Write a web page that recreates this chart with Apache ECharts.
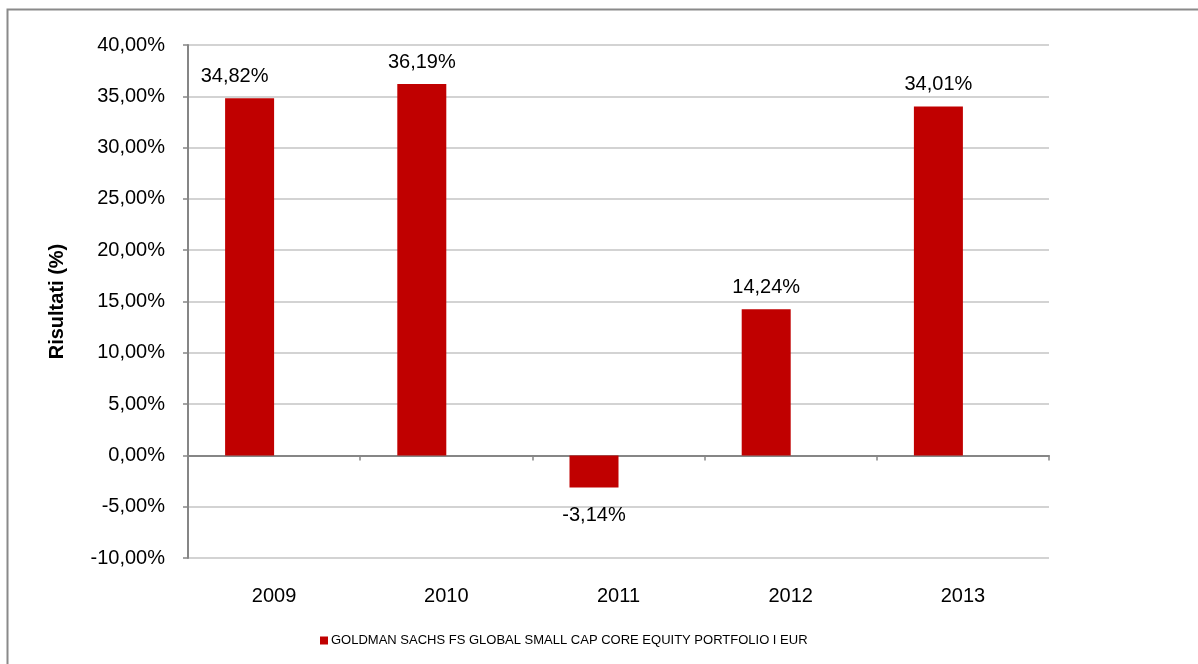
<!DOCTYPE html>
<html>
<head>
<meta charset="utf-8">
<script src="https://cdn.jsdelivr.net/npm/echarts@6/dist/echarts.min.js"></script>
<style>
  html, body { margin: 0; padding: 0; background: #fff; }
  #chart { width: 1198px; height: 664px; }
</style>
</head>
<body>
<div id="chart"></div>
<script>
const years = ['2009', '2010', '2011', '2012', '2013'];
const risultati = [34.82, 36.19, -3.14, 14.24, 34.01];
const vuoto = [null, null, null, null, null]; // seconda serie vuota, come in Excel
const serieNome = 'GOLDMAN SACHS FS GLOBAL SMALL CAP CORE EQUITY PORTFOLIO I EUR';

const font = 'Liberation Sans, Arial, sans-serif';
const fmt = v => v.toFixed(2).replace('.', ',') + '%';

const myChart = echarts.init(document.getElementById('chart'), null, { renderer: 'canvas' });

// etichette: quelle negative un po' più staccate, la prima spostata a sinistra come nell'originale
const barData = risultati.map((v, i) => {
    const item = { value: v };
    if (v < 0) item.label = { distance: 18 };
    if (i === 0) item.label = { offset: [-15, 0] };
    return item;
});

const option = {
    animation: false,
    textStyle: { fontFamily: font },
    graphic: [{
        type: 'rect',
        shape: { x: 7.5, y: 9.5, width: 1300, height: 800 },
        style: { fill: 'none', stroke: '#8a8a8a', lineWidth: 2 },
        silent: true
    }],
    grid: { left: 188, right: 149, top: 45, bottom: 106 },
    legend: {
        data: [serieNome],
        left: 315,
        top: 629,
        icon: 'rect',
        itemWidth: 8,
        itemHeight: 8,
        itemGap: 10,
        textStyle: { fontFamily: font, fontSize: 13, color: '#000', padding: [0, 0, 0, -2] }
    },
    xAxis: [
        {
            type: 'category',
            data: years,
            axisLine: { onZero: true, lineStyle: { color: '#868686', width: 2 } },
            axisTick: { show: true, length: 5, lineStyle: { color: '#868686', width: 1.5 } },
            axisLabel: { show: false }
        },
        {
            type: 'category',
            data: years,
            position: 'bottom',
            axisLine: { show: false, onZero: false },
            axisTick: { show: false },
            axisLabel: { fontFamily: font, fontSize: 20, color: '#000', margin: 28 }
        }
    ],
    yAxis: {
        type: 'value',
        min: -10,
        max: 40,
        interval: 5,
        name: 'Risultati (%)',
        nameLocation: 'middle',
        nameGap: 121,
        nameRotate: 90,
        nameTextStyle: { fontFamily: font, fontSize: 20, fontWeight: 'bold', color: '#000' },
        axisLine: { show: true, lineStyle: { color: '#868686', width: 2 } },
        axisTick: { show: true, length: 5, lineStyle: { color: '#868686', width: 1.5 } },
        axisLabel: { fontFamily: font, fontSize: 20, color: '#000', margin: 23, formatter: fmt },
        splitLine: { lineStyle: { color: '#c4c4c4', width: 1.5 } }
    },
    series: [
        {
            name: serieNome,
            type: 'bar',
            xAxisIndex: 0,
            data: barData,
            barWidth: 49,
            barGap: '0%',
            itemStyle: { color: '#c00000' },
            label: {
                show: true,
                position: 'outside',
                distance: 12,
                fontFamily: font,
                fontSize: 20,
                color: '#000',
                formatter: p => fmt(p.value)
            }
        },
        {
            name: 'vuoto',
            type: 'bar',
            xAxisIndex: 0,
            data: vuoto,
            barWidth: 49,
            barGap: '0%',
            itemStyle: { color: 'transparent' }
        }
    ]
};

myChart.setOption(option);
window.addEventListener('resize', myChart.resize);
</script>
</body>
</html>
